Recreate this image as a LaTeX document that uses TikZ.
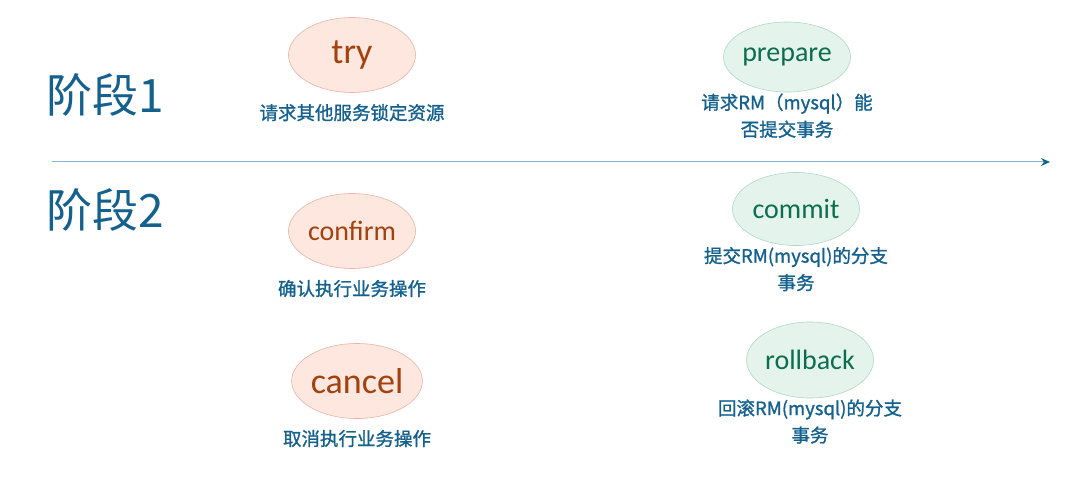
\documentclass[tikz,border=0pt]{standalone}
\usepackage{fontspec}
\setmainfont{Carlito}
\newfontfamily\cjk{Noto Sans CJK SC}
\newfontfamily\cjknote[FakeBold=1.2]{Noto Sans CJK SC}
\usetikzlibrary{arrows.meta}
\usetikzlibrary{shapes}
\usetikzlibrary{positioning}
\definecolor{stageblue}{HTML}{14618E}
\definecolor{lineblue}{HTML}{8CB3D6}
\definecolor{pinkfill}{HTML}{FDE7DF}
\definecolor{pinkdraw}{HTML}{EBB3A3}
\definecolor{pinktext}{HTML}{A3420F}
\definecolor{greenfill}{HTML}{E4F4EC}
\definecolor{greendraw}{HTML}{AFD8C7}
\definecolor{greentext}{HTML}{0C6E50}

\begin{document}
\begin{tikzpicture}[x = 1pt, y = -1pt]
	\tikzstyle{stageStyle} = [text = stageblue, font = \cjk\fontsize{46}{50}\selectfont, inner sep = 0pt]
	\tikzstyle{tccStyle} = [shape = ellipse, minimum width = 127pt, minimum height = 75pt, inner sep = 0pt, draw = pinkdraw, fill = pinkfill, text = pinktext, line width = 0.6pt]
	\tikzstyle{xaStyle} = [shape = ellipse, minimum width = 127pt, minimum height = 73pt, inner sep = 0pt, draw = greendraw, fill = greenfill, text = greentext, font = \fontsize{28}{30}\selectfont, line width = 0.6pt]
	\tikzstyle{noteStyle} = [text = stageblue, font = \cjknote\fontsize{18.5}{27}\selectfont, align = center, inner sep = 0pt]
	\useasboundingbox (0,0) rectangle (1084,486);
	\node[stageStyle] (stage1) at (105,95) {阶段1};
	\node[stageStyle] (stage2) at (105,210) {阶段2};
	\coordinate (axisStart) at (52,162);
	\coordinate (axisEnd) at (1050,162);
	\draw[lineblue, line width = 1pt, -{Stealth[length = 9pt, width = 8pt, color = stageblue]}] (axisStart) -- (axisEnd);
	% TCC
	\node[tccStyle, font = \fontsize{36}{38}\selectfont] (try) at (352,55) {try};
	\node[noteStyle, below = 11pt of try] (tryNote) {请求其他服务锁定资源};
	\node[tccStyle, font = \fontsize{28}{30}\selectfont] (confirm) at (352,231) {confirm};
	\node[noteStyle, below = 11pt of confirm] (confirmNote) {确认执行业务操作};
	\node[tccStyle, font = \fontsize{36}{38}\selectfont] (cancel) at (357,381) {cancel};
	\node[noteStyle, below = 11pt of cancel] (cancelNote) {取消执行业务操作};
	% XA
	\node[xaStyle, minimum height = 70pt] (prepare) at (787,57) {prepare};
	\node[noteStyle, below = 1pt of prepare] (prepareNote) {请求RM（mysql）能\\否提交事务};
	\node[xaStyle] (commit) at (796,209) {commit};
	\node[noteStyle, below = 1pt of commit] (commitNote) {提交RM(mysql)的分支\\事务};
	\node[xaStyle, minimum height = 76pt] (rollback) at (810,360) {rollback};
	\node[noteStyle, below = 1pt of rollback] (rollbackNote) {回滚RM(mysql)的分支\\事务};
\end{tikzpicture}
\end{document}
